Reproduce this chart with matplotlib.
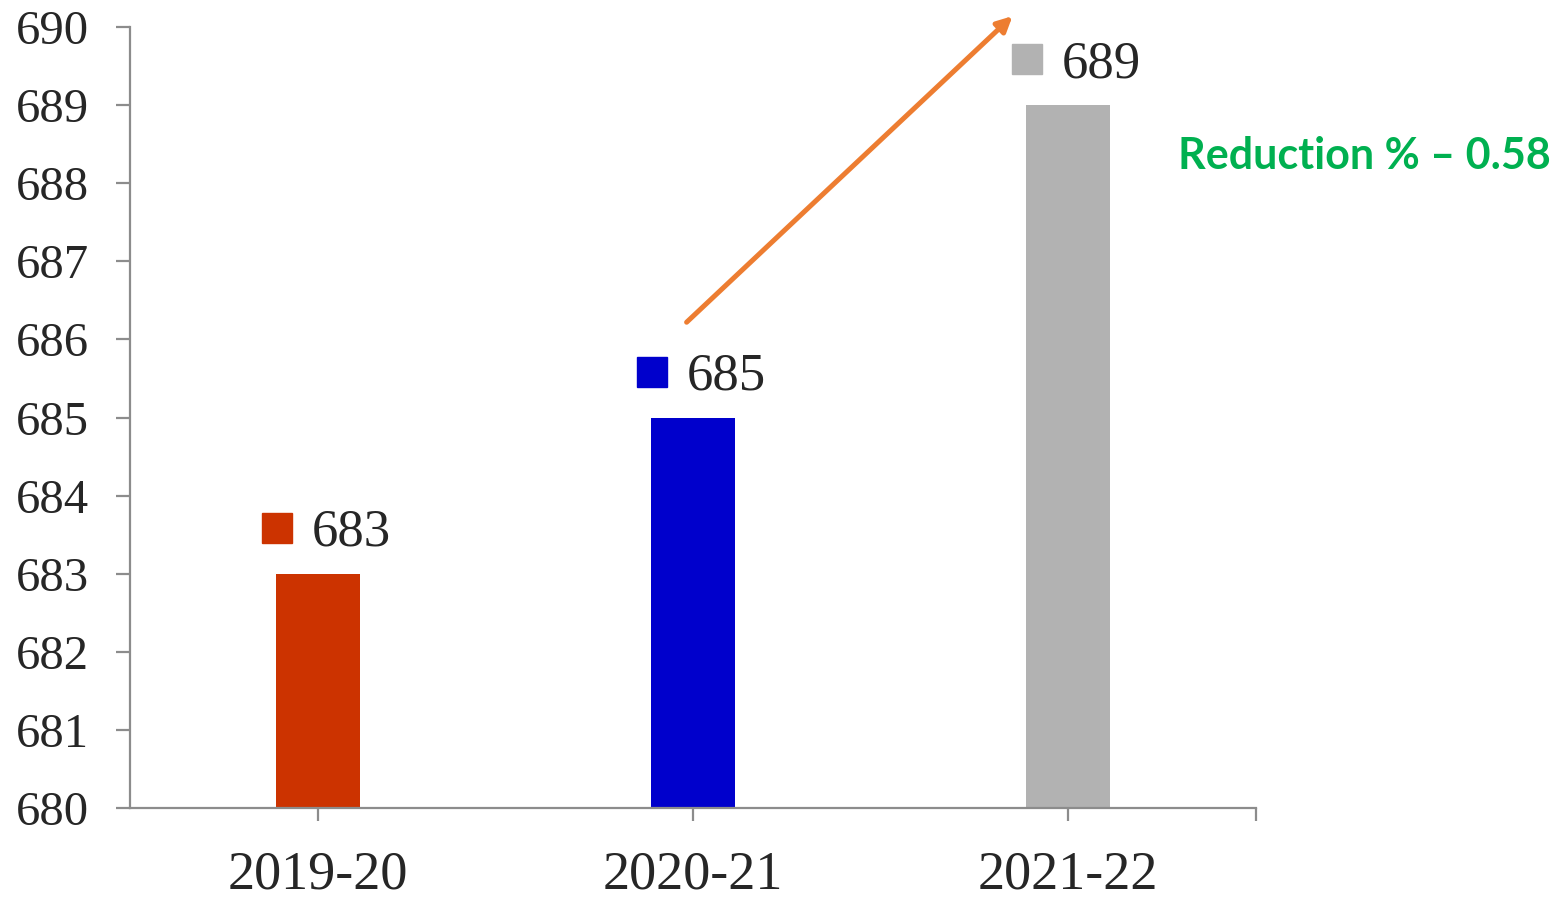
import matplotlib
matplotlib.use("Agg")
import matplotlib.pyplot as plt
from matplotlib.transforms import offset_copy

# Data
years = ["2019-20", "2020-21", "2021-22"]
values = [683, 685, 689]
colors = ["#CC3300", "#0000CC", "#B2B2B2"]
y_ticks = list(range(680, 691))
note = "Reduction % \u2013 0.58"

fig = plt.figure(figsize=(15.62, 9.01), dpi=100)
ax = fig.add_axes([0.0835, 0.1032, 0.7203, 0.8668])

x = list(range(len(years)))
ax.bar(x, values, width=0.224, color=colors, zorder=2)

ax.set_xlim(-0.5, len(years) - 0.5)
ax.set_ylim(680, 690)
ax.set_yticks(y_ticks)
ax.set_xticks(x)
ax.set_xticks([len(years) - 0.5], minor=True)

serif = ["Liberation Serif", "DejaVu Serif"]
text_col = "#262626"
axis_col = "#8C8C8C"

ax.set_yticklabels([str(v) for v in y_ticks], family=serif, fontsize=35, color=text_col)
ax.set_xticklabels(years, family=serif, fontsize=39, color=text_col)

for side in ("top", "right"):
    ax.spines[side].set_visible(False)
for side in ("left", "bottom"):
    ax.spines[side].set_color(axis_col)
    ax.spines[side].set_linewidth(1.6)

ax.tick_params(axis="y", which="major", length=10, width=1.6, color=axis_col, pad=20)
ax.tick_params(axis="x", which="both", length=9, width=1.6, color=axis_col, pad=21)

# Value labels with colour keys above each bar
for xi, v, c in zip(x, values, colors):
    sq_tr = offset_copy(ax.transData, fig=fig, x=-41, y=46, units="dots")
    ax.plot([xi], [v], marker="s", markersize=21.6, color=c, transform=sq_tr,
            clip_on=False, zorder=3)
    ax.annotate(str(v), xy=(xi, v), xytext=(-6, 28), textcoords="offset pixels",
                ha="left", va="baseline", family=serif, fontsize=38, color=text_col,
                annotation_clip=False)

# Trend arrow
ax.annotate("", xy=(1.852, 690.14), xytext=(0.983, 686.22),
            xycoords="data", textcoords="data", annotation_clip=False,
            arrowprops=dict(arrowstyle="-|>,head_length=0.9,head_width=0.45",
                            color="#ED7D31", lw=3.6, shrinkA=0, shrinkB=0))

fig.text(1178 / 1562, 1 - 156 / 901, note, family=["Lato", "DejaVu Sans"],
         fontweight="bold", fontsize=31, color="#00B050", ha="left", va="center")

fig.savefig("out.png", dpi=100, facecolor="white")
